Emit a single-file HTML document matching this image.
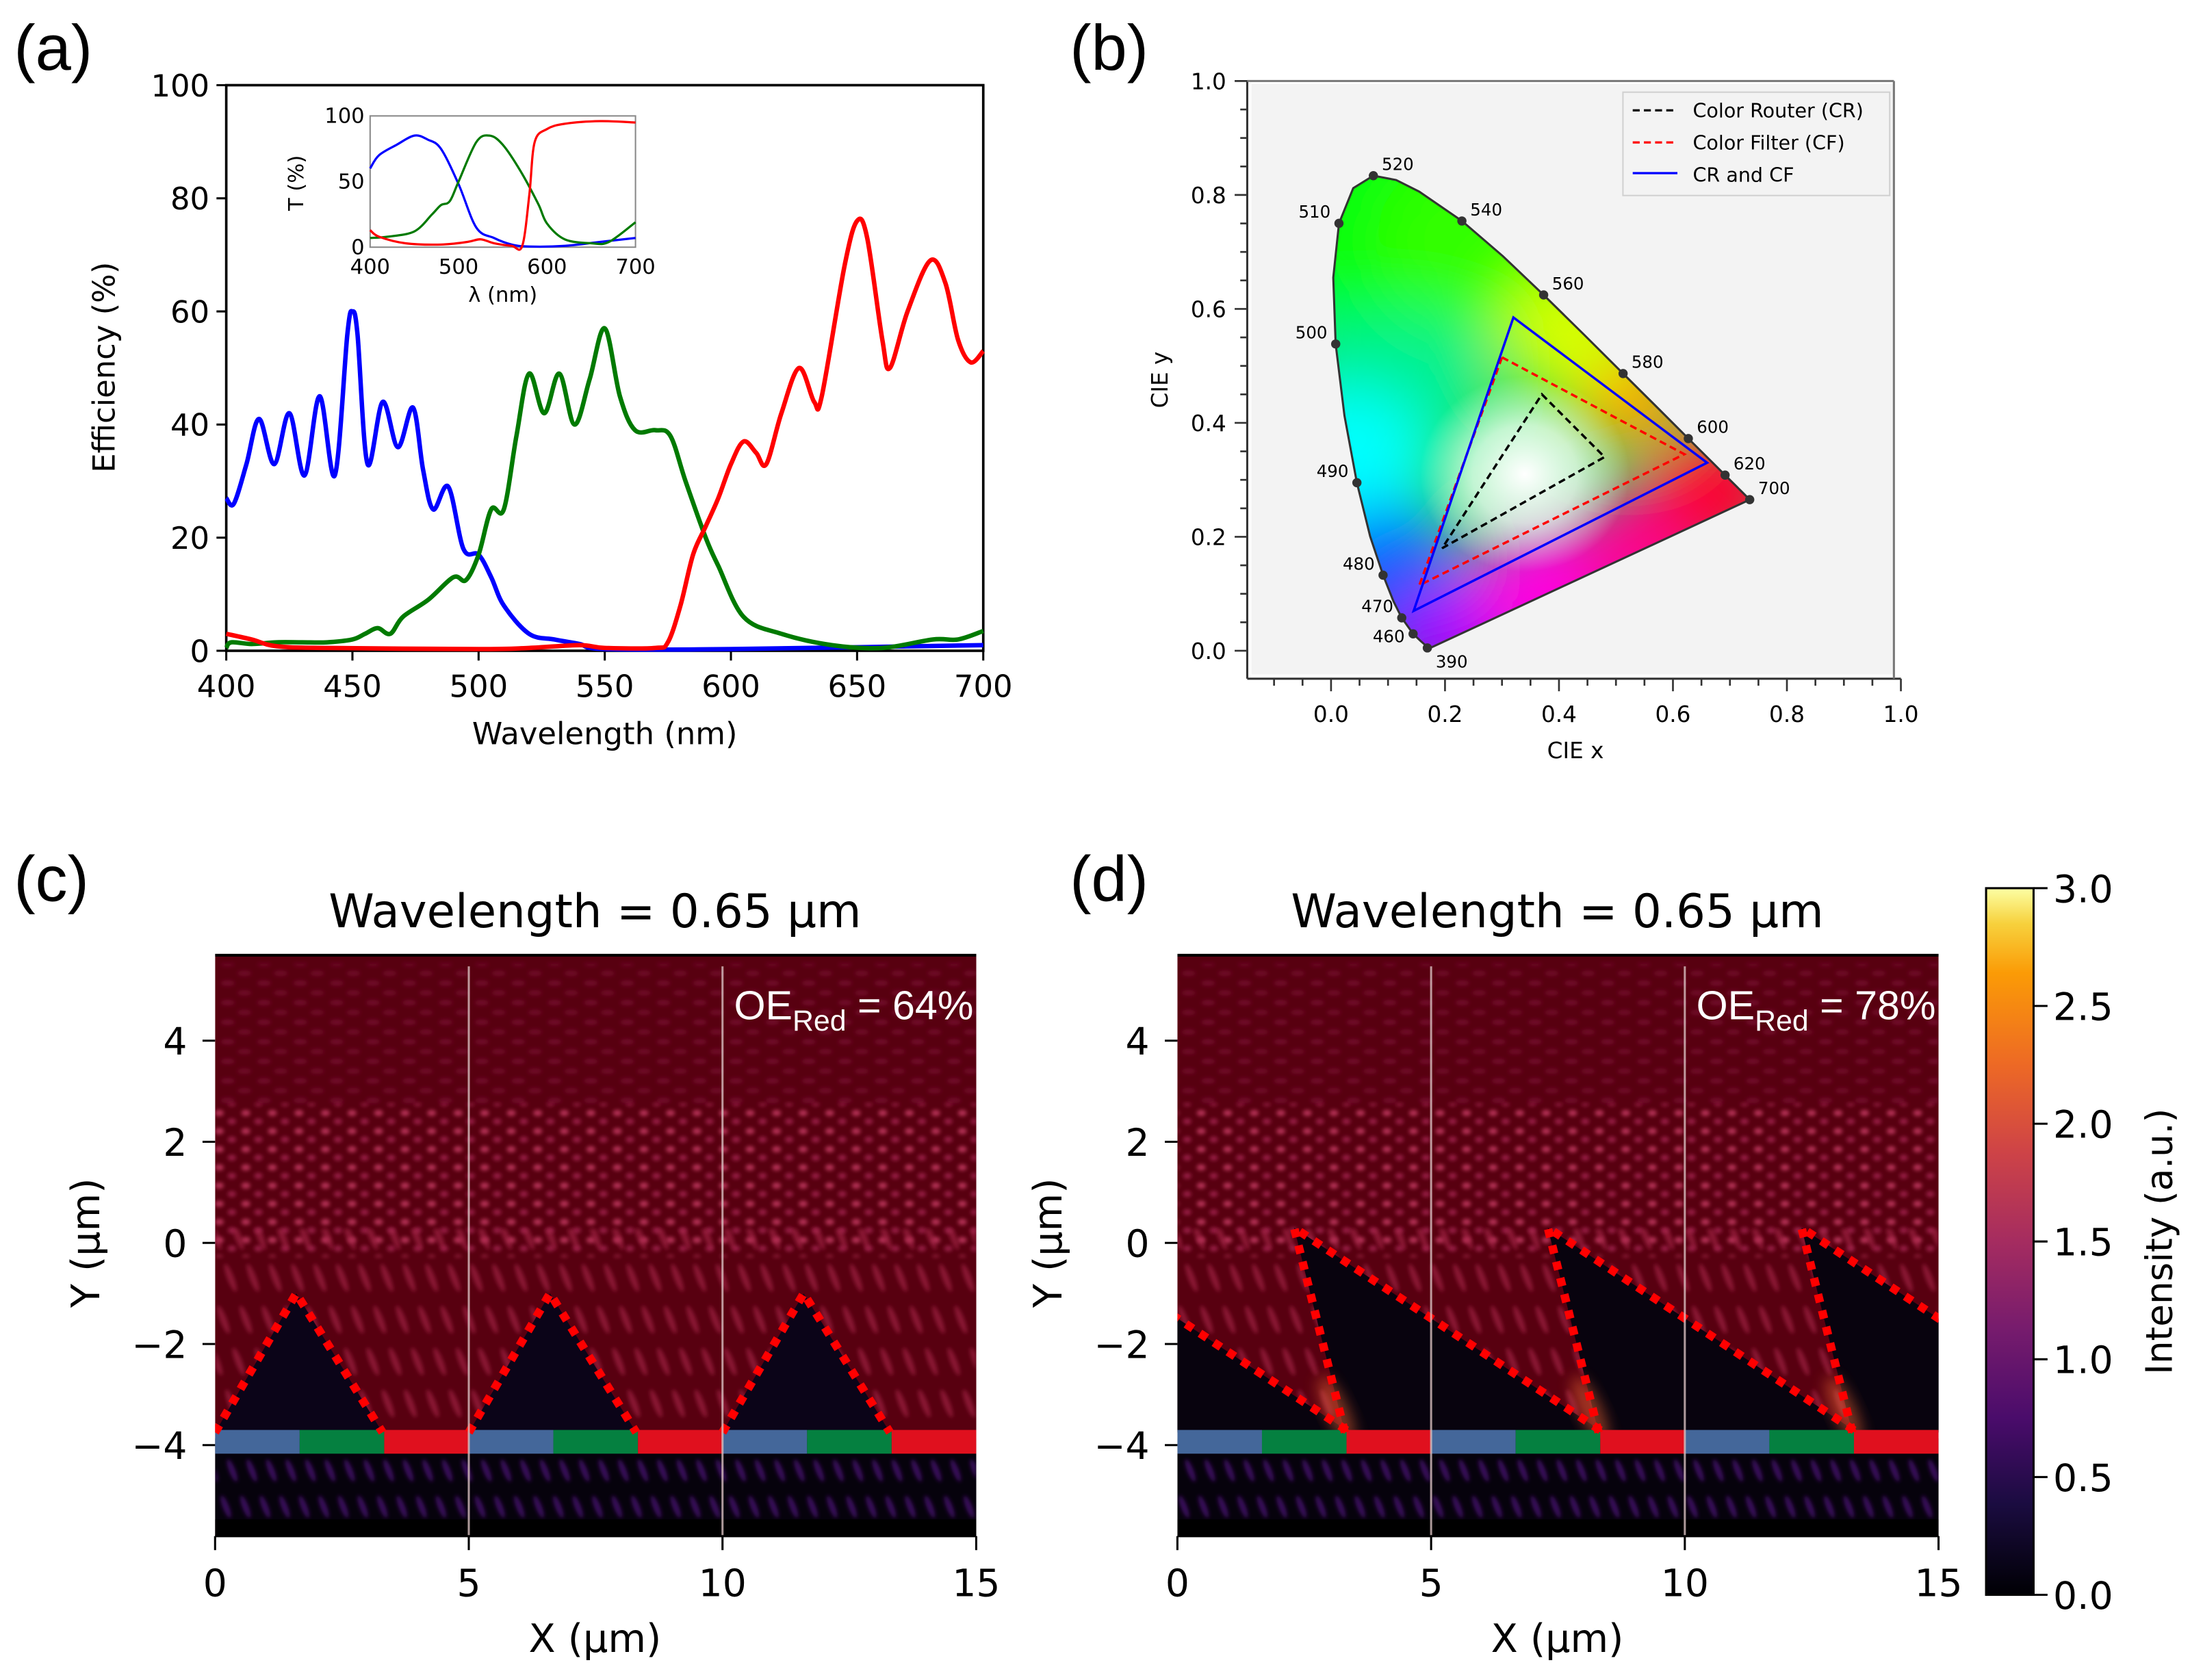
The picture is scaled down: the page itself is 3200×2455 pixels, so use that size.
<!DOCTYPE html>
<html><head><meta charset="utf-8">
<style>
html,body{margin:0;padding:0;background:#fff;}
svg{display:block;}
text{font-family:"DejaVu Sans","Liberation Sans",sans-serif;}
</style></head>
<body>
<svg id="fig" width="3200" height="2455" viewBox="0 0 1568 1203" preserveAspectRatio="none" xmlns="http://www.w3.org/2000/svg">
<defs>
  <filter id="blur12" x="-50%" y="-50%" width="200%" height="200%"><feGaussianBlur stdDeviation="22"/></filter>
  <filter id="blur2"><feGaussianBlur stdDeviation="1.4"/></filter>
  <filter id="blur5" x="-50%" y="-50%" width="200%" height="200%"><feGaussianBlur stdDeviation="5"/></filter>
  <clipPath id="clipC"><rect x="154" y="683" width="545" height="417"/></clipPath>
  <clipPath id="clipD"><rect x="843" y="683" width="545" height="417"/></clipPath>
  <pattern id="speck" width="19" height="13" patternUnits="userSpaceOnUse">
    <ellipse cx="5" cy="4" rx="3.2" ry="2.3" fill="#d0406a" opacity="0.75"/>
    <ellipse cx="14" cy="10" rx="3" ry="2.2" fill="#b02858" opacity="0.7"/>
  </pattern>
  <pattern id="speck2" width="26" height="14" patternUnits="userSpaceOnUse">
    <ellipse cx="7" cy="4" rx="5" ry="2" fill="#901a4a" opacity="0.45"/>
    <ellipse cx="19" cy="11" rx="5" ry="2" fill="#901a4a" opacity="0.4"/>
  </pattern>
  <pattern id="streak" width="16" height="30" patternUnits="userSpaceOnUse" patternTransform="skewX(20)">
    <ellipse cx="8" cy="15" rx="2.6" ry="10" fill="#b02a50" opacity="0.55"/>
  </pattern>
  <pattern id="streakP" width="14" height="26" patternUnits="userSpaceOnUse" patternTransform="skewX(20)">
    <ellipse cx="7" cy="13" rx="2.4" ry="8" fill="#5a1890" opacity="0.6"/>
  </pattern>
  <linearGradient id="inferno" x1="0" y1="1" x2="0" y2="0">
    <stop offset="0" stop-color="#000004"/>
    <stop offset="0.13" stop-color="#1b0c41"/>
    <stop offset="0.25" stop-color="#4a0c6b"/>
    <stop offset="0.38" stop-color="#781c6d"/>
    <stop offset="0.5" stop-color="#a52c60"/>
    <stop offset="0.63" stop-color="#cf4446"/>
    <stop offset="0.75" stop-color="#ed6925"/>
    <stop offset="0.88" stop-color="#fb9b06"/>
    <stop offset="0.95" stop-color="#f7d13d"/>
    <stop offset="1" stop-color="#fcffa4"/>
  </linearGradient>
  <radialGradient id="whiteCore">
    <stop offset="0" stop-color="#fff" stop-opacity="1"/>
    <stop offset="0.5" stop-color="#fff" stop-opacity="0.7"/>
    <stop offset="1" stop-color="#fff" stop-opacity="0"/>
  </radialGradient>
</defs>

<text x="10" y="50" font-size="46" style="font-family:'Liberation Sans',sans-serif">(a)</text>
<text x="766" y="50" font-size="46" style="font-family:'Liberation Sans',sans-serif">(b)</text>
<text x="10" y="645" font-size="46" style="font-family:'Liberation Sans',sans-serif">(c)</text>
<text x="766" y="645" font-size="46" style="font-family:'Liberation Sans',sans-serif">(d)</text>

<g id="panelA">
  <rect x="162" y="61" width="542" height="405" fill="none" stroke="#000" stroke-width="1.8"/>
  <g id="aTicks"></g>
  <g id="aCurves"></g>
  <text x="433" y="533" font-size="22" text-anchor="middle">Wavelength (nm)</text>
  <text transform="translate(82,263) rotate(-90)" font-size="22" text-anchor="middle">Efficiency (%)</text>
  <g id="inset">
    <rect x="265" y="83" width="190" height="94" fill="#fff" stroke="#888" stroke-width="1"/>
    <g id="iTicks"></g>
    <g id="iCurves"></g>
    <text x="360" y="216" font-size="15" text-anchor="middle">λ (nm)</text>
    <text transform="translate(217,131) rotate(-90)" font-size="15" text-anchor="middle">T (%)</text>
  </g>
</g>

<g id="panelB">
  <rect x="896" y="60" width="460" height="423" fill="#f3f3f3"/>
  <g id="locusFill"></g>
  <g id="bMarks"></g>
  <g id="bTicks"></g>
  <text x="1128" y="543" font-size="16" text-anchor="middle">CIE x</text>
  <text transform="translate(836,272) rotate(-90)" font-size="16" text-anchor="middle">CIE y</text>
  <g>
    <rect x="1162" y="66" width="191" height="74" fill="#f3f3f3" stroke="#d0d0d0" stroke-width="1"/>
    <line x1="1169" y1="79" x2="1201" y2="79" stroke="#000" stroke-width="1.6" stroke-dasharray="5,3"/>
    <text x="1212" y="84" font-size="14">Color Router (CR)</text>
    <line x1="1169" y1="102" x2="1201" y2="102" stroke="#f00" stroke-width="1.6" stroke-dasharray="5,3"/>
    <text x="1212" y="107" font-size="14">Color Filter (CF)</text>
    <line x1="1169" y1="124" x2="1201" y2="124" stroke="#00f" stroke-width="1.6"/>
    <text x="1212" y="130" font-size="14">CR and CF</text>
  </g>
</g>

<g id="panelC"></g>
<g id="panelD"></g>
<text x="426" y="664" font-size="33" text-anchor="middle">Wavelength = 0.65 µm</text>
<text x="1115" y="664" font-size="33" text-anchor="middle">Wavelength = 0.65 µm</text>

<g>
  <rect x="1422" y="636" width="34" height="506" fill="url(#inferno)" stroke="#000" stroke-width="1.5"/>
  <g id="cbTicks"></g>
  <text transform="translate(1555,889) rotate(-90)" font-size="26" text-anchor="middle">Intensity (a.u.)</text>
</g>
</svg>

<script>
const NS="http://www.w3.org/2000/svg";
function mk(tag,attrs,parent,txt){const e=document.createElementNS(NS,tag);for(const k in attrs)e.setAttribute(k,attrs[k]);if(txt!==undefined)e.textContent=txt;parent.appendChild(e);return e;}
function smooth(pts){let d="M"+pts[0][0].toFixed(2)+","+pts[0][1].toFixed(2);for(let i=0;i<pts.length-1;i++){const p0=pts[Math.max(0,i-1)],p1=pts[i],p2=pts[i+1],p3=pts[Math.min(pts.length-1,i+2)];const c1=[p1[0]+(p2[0]-p0[0])/6,p1[1]+(p2[1]-p0[1])/6],c2=[p2[0]-(p3[0]-p1[0])/6,p2[1]-(p3[1]-p1[1])/6];d+=" C"+c1[0].toFixed(2)+","+c1[1].toFixed(2)+" "+c2[0].toFixed(2)+","+c2[1].toFixed(2)+" "+p2[0].toFixed(2)+","+p2[1].toFixed(2);}return d;}

// ---------- Panel (a) data ----------
const blueWl=[400,403,408,413,419,425,431,437,443,448,450,452,456,462,468,474,478,482,488,494,500,505,510,520,530,540,550,600,700];
const blueEff=[27,26,33,41,33,42,31,45,31,56,60,56,33,44,36,43,32,25,29,18,17,13,8,3,2,1.2,0.3,0.3,1];
const greenWl=[400,402,410,420,430,440,450,455,460,465,470,480,490,495,500,505,510,515,520,526,532,538,544,550,556,562,570,576,582,590,595,605,620,640,660,680,690,700];
const greenEff=[0.5,1.5,1.2,1.5,1.5,1.5,2,3,4,3,6,9,13,12.5,17,25,25,38,49,42,49,40,48,57,45,39,39,38,30,20,15,6,3,1,0.5,2,2,3.5];
const redWl=[400,410,420,440,500,520,540,550,570,575,580,585,590,595,600,605,610,614,620,627,633,636,645,650,654,660,663,670,679,685,690,695,700];
const redEff=[3,2,0.8,0.5,0.3,0.5,1,0.5,0.5,1.5,8,17,22,27,33,37,35,33,42,50,44,45,68,76,73,55,50,60,69,65,55,51,53];
const aXTicks=[400,450,500,550,600,650,700];
const aYTicks=[0,20,40,60,80,100];
const iBlueWl=[400,410,430,450,465,480,500,520,540,560,580,620,660,700];
const iBlueT=[60,70,78,85,82,75,48,15,7,2,0.5,1,4,7];
const iGreenWl=[400,420,450,470,480,490,500,520,535,550,570,590,600,620,650,670,700];
const iGreenT=[7,8,12,25,32,35,50,80,85,78,58,33,18,6,3,4,19];
const iRedWl=[400,410,440,480,510,525,540,560,572,580,586,600,620,660,700];
const iRedT=[13,8,3,2,4,6,3,1,1,40,80,90,94,96,95];
const iXTicks=[400,500,600,700];
const iYTicks=[0,50,100];

const ax=w=>162+(w-400)/300*542, ay=v=>466-v*4.05;
const ix=w=>265+(w-400)/300*190, iy=v=>177-v*0.94;

const aT=document.getElementById("aTicks");
aXTicks.forEach(t=>{
  const l=mk("line",{x1:ax(t),x2:ax(t),y1:466,y2:473,stroke:"#000","stroke-width":1.5},aT);
  
  
  const tx=mk("text",{x:ax(t),y:499,"font-size":22,"text-anchor":"middle"},aT,String(t));
  
  
});
aYTicks.forEach(t=>{
  const l=mk("line",{x1:155,x2:162,y1:ay(t),y2:ay(t),stroke:"#000","stroke-width":1.5},aT);
  
  
  const tx=mk("text",{x:150,y:ay(t)+8,"font-size":22,"text-anchor":"end"},aT,String(t));
  
  
});
const aC=document.getElementById("aCurves");
[[blueWl,blueEff,"#0000ff","blue"],[greenWl,greenEff,"#007a00","green"],[redWl,redEff,"#ff0000","red"]].forEach(s=>{
  const p=mk("path",{d:smooth(s[0].map((w,i)=>[ax(w),ay(s[1][i])])),fill:"none",stroke:s[2],"stroke-width":3.2,"stroke-linejoin":"round"},aC);
  
  
});
const iT=document.getElementById("iTicks");
iXTicks.forEach(t=>{
  const tx=mk("text",{x:ix(t),y:196,"font-size":15,"text-anchor":"middle"},iT,String(t));
  
  
});
iYTicks.forEach(t=>{
  const tx=mk("text",{x:261,y:iy(t)+5,"font-size":15,"text-anchor":"end"},iT,String(t));
  
  
});
const iC=document.getElementById("iCurves");
[[iBlueWl,iBlueT,"#0000ff","blue"],[iGreenWl,iGreenT,"#007a00","green"],[iRedWl,iRedT,"#ff0000","red"]].forEach(s=>{
  const p=mk("path",{d:smooth(s[0].map((w,i)=>[ix(w),iy(s[1][i])])),fill:"none",stroke:s[2],"stroke-width":1.6},iC);
  
  
});

// ---------- Panel (b) data ----------
const locusX=[.1741,.1738,.1733,.1714,.1644,.1566,.1440,.1241,.1096,.0913,.0687,.0454,.0235,.0082,.0039,.0139,.0389,.0743,.1142,.1547,.2296,.3016,.3731,.4441,.5125,.5752,.6270,.6658,.6915,.7190,.7347];
const locusY=[.0050,.0049,.0048,.0051,.0109,.0177,.0297,.0578,.0868,.1327,.2007,.2950,.4127,.5384,.6548,.7502,.8120,.8338,.8262,.8059,.7543,.6923,.6245,.5547,.4866,.4242,.3725,.3340,.3083,.2809,.2653];
const markNm=[390,460,470,480,490,500,510,520,540,560,580,600,620,700];
const markX=[.169,.144,.1241,.0913,.0454,.0082,.0139,.0743,.2296,.3731,.5125,.627,.6915,.7347];
const markY=[.005,.0297,.0578,.1327,.295,.5384,.7502,.8338,.7543,.6245,.4866,.3725,.3083,.2653];
const crX=[.37,.48,.195], crY=[.45,.34,.18];
const cfX=[.30,.62,.155], cfY=[.515,.345,.115];
const bothX=[.32,.66,.145], bothY=[.585,.33,.07];
const bXTicks=[0,0.2,0.4,0.6,0.8,1.0];
const bYTicks=[0,0.2,0.4,0.6,0.8,1.0];

const bx=x=>953+x*408, by=y=>466-y*408;
const locusPts=locusX.map((x,i)=>bx(x).toFixed(1)+","+by(locusY[i]).toFixed(1)).join(" ");
const defs=document.querySelector("defs");
const cp=mk("clipPath",{id:"locusClip"},defs);
mk("polygon",{points:locusPts},cp);
const lf=document.getElementById("locusFill");
const lg=mk("g",{"clip-path":"url(#locusClip)"},lf);
mk("rect",{x:890,y:60,width:470,height:420,fill:"#30e060"},lg);
const blobs=mk("g",{filter:"url(#blur12)"},lg);
[[0.1,0.5,0.7,"#00f090"],[0.05,0.78,0.9,"#00ff10"],[0.25,0.72,0.7,"#30ff00"],[0.03,0.33,0.6,"#00ffff"],[0.1,0.12,0.6,"#0060ff"],[0.13,0.03,0.35,"#3010ff"],[0.22,0.02,0.45,"#a000ff"],[0.38,0.1,0.55,"#ff00e0"],[0.55,0.18,0.5,"#ff0090"],[0.68,0.28,0.5,"#ff0030"],[0.52,0.45,0.45,"#ffa000"],[0.42,0.56,0.5,"#d8ff00"]].forEach(b=>{
  mk("ellipse",{cx:bx(b[0]),cy:by(b[1]),rx:b[2]*100,ry:b[2]*90,fill:b[3]},blobs);
});
mk("ellipse",{cx:bx(0.34),cy:by(0.31),rx:75,ry:70,fill:"url(#whiteCore)"},lg);
const loc=mk("polygon",{points:locusPts,fill:"none",stroke:"#333","stroke-width":1.5},lf);


const bM=document.getElementById("bMarks");
markNm.forEach((nm,i)=>{
  const c=mk("circle",{cx:bx(markX[i]),cy:by(markY[i]),r:3.3,fill:"#333"},bM);
  
  
  const left=(nm>=460&&nm<=510);
  const dx=left?-6:6, dy=(nm==390)?14:(nm==460?6:-4);
  const t=mk("text",{x:bx(markX[i])+dx,y:by(markY[i])+dy,"font-size":12,"text-anchor":left?"end":"start"},bM,String(nm));
  
  
});
[[crX,crY,"#000","5,3","cr-triangle"],[cfX,cfY,"#f00","5,3","cf-triangle"],[bothX,bothY,"#00f","none","cr-cf-triangle"]].forEach(s=>{
  const p=mk("polygon",{points:s[0].map((x,i)=>bx(x)+","+by(s[1][i])).join(" "),fill:"none",stroke:s[2],"stroke-width":1.7,"stroke-dasharray":s[3]},bM);
  
  
});
const bT=document.getElementById("bTicks");
mk("line",{x1:893,x2:893,y1:58,y2:486,stroke:"#333","stroke-width":1.5},bT);
mk("line",{x1:893,x2:1361,y1:486,y2:486,stroke:"#333","stroke-width":1.5},bT);
mk("line",{x1:893,x2:1356,y1:58,y2:58,stroke:"#777","stroke-width":1.5},bT);
mk("line",{x1:1356,x2:1356,y1:58,y2:486,stroke:"#777","stroke-width":1.5},bT);
for(let k=-2;k<=20;k++){const y=k*0.05;const Y=by(y);if(Y<58||Y>486)continue;const major=(k%4===0);mk("line",{x1:major?884:888,x2:893,y1:Y,y2:Y,stroke:"#333","stroke-width":1.3},bT);}
for(let k=-3;k<=20;k++){const x=k*0.05;const X=bx(x);if(X<893||X>1361)continue;const major=(k%4===0);mk("line",{x1:X,x2:X,y1:486,y2:major?495:491,stroke:"#333","stroke-width":1.3},bT);}
bXTicks.forEach(t=>{
  const tx=mk("text",{x:bx(t),y:517,"font-size":16,"text-anchor":"middle"},bT,t.toFixed(1));
  
  
});
bYTicks.forEach(t=>{
  const tx=mk("text",{x:878,y:by(t)+6,"font-size":16,"text-anchor":"end"},bT,t.toFixed(1));
  
  
});

// ---------- Panels (c),(d) ----------
const hXTicks=[0,5,10,15];
const hYTicks=[4,2,0,-2,-4];
const hYLabels=["4","2","0","\u22122","\u22124"];
const cApexX=[1.6,6.6,11.6], cApexY=[-1.0,-1.0,-1.0], cBaseL=[0,5,10], cBaseR=[3.3,8.3,13.3];
const dApexX=[-2.7,2.3,7.3,12.3], dApexY=[0.3,0.3,0.3,0.3], dSteepX=[-1.7,3.3,8.3,13.3], dLongX=[3.4,8.4,13.4,18.4];
const baseY=-3.75;
const oeC="64%", oeD="78%";
const cbTicks=[0,0.5,1.0,1.5,2.0,2.5,3.0];

const hy=y=>890-y*36.2;
function heat(gid,x0,clip,kind,oe){
  const g=document.getElementById(gid);
  const X=x=>x0+x*36.33;
  const c=mk("g",{"clip-path":"url(#"+clip+")"},g);
  mk("rect",{x:x0,y:683,width:545,height:417,fill:"#580010"},c);
  mk("rect",{x:x0,y:690,width:545,height:100,fill:"url(#speck2)",filter:"url(#blur2)"},c);
  mk("rect",{x:x0,y:790,width:545,height:110,fill:"url(#speck)",filter:"url(#blur2)"},c);
  mk("rect",{x:x0,y:880,width:545,height:145,fill:"url(#streak)",filter:"url(#blur2)"},c);
  mk("rect",{x:x0,y:1030,width:545,height:70,fill:"#06020c"},c);
  mk("rect",{x:x0,y:1038,width:545,height:50,fill:"url(#streakP)",filter:"url(#blur2)"},c);
  mk("rect",{x:x0,y:1088,width:545,height:12,fill:"#000"},c);
  mk("rect",{x:x0,y:681,width:545,height:4,fill:"#000"},c);
  const dots=mk("g",{},c);
  if(kind==="c"){
    cApexX.forEach((a,i)=>{
      const pts=[[X(cBaseL[i]),hy(baseY)],[X(a),hy(cApexY[i])],[X(cBaseR[i]),hy(baseY)]];
      const p=mk("polygon",{points:pts.map(q=>q.join(",")).join(" "),fill:"#0b0418"},c);
      
      
      const d=mk("polyline",{points:pts.map(q=>q.join(",")).join(" "),fill:"none",stroke:"#ff0000","stroke-width":6,"stroke-dasharray":"6,6"},dots);
      
      
    });
  } else {
    dApexX.forEach((a,i)=>{
      const pts=[[X(dSteepX[i]),hy(baseY)],[X(a),hy(dApexY[i])],[X(dLongX[i]),hy(baseY)]];
      const p=mk("polygon",{points:pts.map(q=>q.join(",")).join(" "),fill:"#08030e"},c);
      
      
      const gx=X(dSteepX[i])-6, gy=hy(-3.3);
      mk("ellipse",{cx:gx,cy:gy,rx:8,ry:26,fill:"#e06030",opacity:0.55,filter:"url(#blur5)",transform:"rotate(-25 "+gx+" "+gy+")"},c);
      const d=mk("polyline",{points:pts.map(q=>q.join(",")).join(" "),fill:"none",stroke:"#ff0000","stroke-width":6,"stroke-dasharray":"6,6"},dots);
      
      
    });
  }
  const cols=["#44679a","#058040","#e0101e"];
  for(let k=0;k<9;k++){
    const r=mk("rect",{x:X(k*5/3),y:hy(-3.7),width:5/3*36.33,height:17,fill:cols[k%3]},c);
    
    
  }
  c.appendChild(dots);
  [5,10].forEach(v=>mk("line",{x1:X(v),x2:X(v),y1:692,y2:1100,stroke:"#d8c0c0","stroke-width":1.5,opacity:0.8},c));
  mk("line",{x1:x0,x2:x0+545,y1:1100,y2:1100,stroke:"#000","stroke-width":1.5},g);
  hXTicks.forEach(t=>{
    mk("line",{x1:X(t),x2:X(t),y1:1100,y2:1110,stroke:"#000","stroke-width":1.5},g);
    const tx=mk("text",{x:X(t),y:1143,"font-size":27,"text-anchor":"middle"},g,String(t));
    
    
  });
  hYTicks.forEach((t,i)=>{
    mk("line",{x1:x0-9,x2:x0,y1:hy(t),y2:hy(t),stroke:"#000","stroke-width":1.5},g);
    const tx=mk("text",{x:x0-20,y:hy(t)+10,"font-size":27,"text-anchor":"end"},g,hYLabels[i]);
    
    
  });
  const xt=mk("text",{x:x0+272,y:1183,"font-size":28,"text-anchor":"middle"},g,"X (µm)");
  
  
  const yt=mk("text",{transform:"translate("+(x0-83)+",890) rotate(-90)","font-size":28,"text-anchor":"middle"},g,"Y (µm)");
  
  
  const oet=mk("text",{x:x0+543,y:730,"font-size":29,"text-anchor":"end",fill:"#fff"},g);
  
  
  oet.style.fontFamily="'Liberation Sans',sans-serif";
  mk("tspan",{},oet,"OE");
  mk("tspan",{dy:8,"font-size":21},oet,"Red");
  mk("tspan",{dy:-8},oet," = "+oe);
}
heat("panelC",154,"clipC","c",oeC);
heat("panelD",843,"clipD","d",oeD);

const cbT=document.getElementById("cbTicks");
cbTicks.forEach(t=>{
  const Y=1142-t/3*506;
  mk("line",{x1:1456,x2:1466,y1:Y,y2:Y,stroke:"#000","stroke-width":1.5},cbT);
  const tx=mk("text",{x:1470,y:Y+10,"font-size":27},cbT,t.toFixed(1));
  
  
});
</script>
</body></html>
